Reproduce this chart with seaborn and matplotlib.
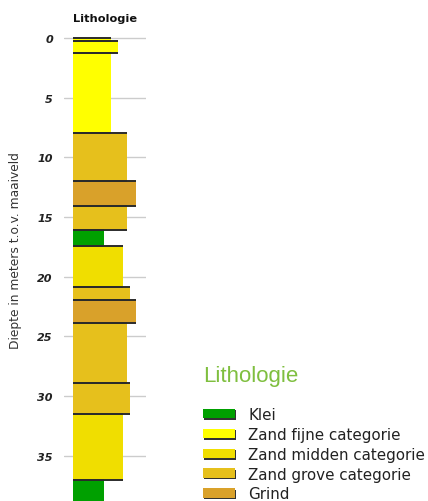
import matplotlib.pyplot as plt
import matplotlib.patheffects as pe
from matplotlib.patches import Patch
import seaborn as sns

# boorprofiel: laag bovenkant / onderkant (m t.o.v. maaiveld)
tops = [0.0, 0.25, 1.25, 8.0, 12.0, 14.05, 16.05, 17.45, 20.9, 21.95, 23.9, 28.9, 31.5, 37.0]
bottoms = tops[1:] + [40.0]
lith = ['fijn', 'fijn', 'fijn', 'grof', 'grind', 'grof', 'klei', 'midden',
        'grof', 'grind', 'grof', 'grof', 'midden', 'klei']
# relatieve kolombreedte per laag (korrelgrootte)
widths = [38, 45, 38, 54, 63, 54, 31, 50, 57, 63, 54, 57, 50, 31]

classes = ['klei', 'fijn', 'midden', 'grof', 'grind']
class_labels = ['Klei', 'Zand fijne categorie', 'Zand midden categorie',
                'Zand grove categorie', 'Grind']
colors = {'klei': '#00a000', 'fijn': '#ffff00', 'midden': '#f0de00',
          'grof': '#e6c01c', 'grind': '#d9a12a'}

sns.set_theme(style='white')
plt.rcParams['font.family'] = ['DejaVu Sans']

fig = plt.figure(figsize=(4.28, 5.02), dpi=100)
ax = fig.add_axes([64 / 428, 0, 82 / 428, 466 / 502])

# lagen
for t, b, l, w in zip(tops, bottoms, lith, widths):
    ax.bar(0, b - t, bottom=t, width=w, align='edge', color=colors[l],
           linewidth=0, zorder=2)
    ax.hlines([t, b], 0, w, color='#2b2b2b', linewidth=1.4, zorder=3)

ax.set_xlim(-9, 73)
ax.set_ylim(38.8, -0.25)
ax.set_xticks([])
ax.set_yticks(range(0, 40, 5))
ax.tick_params(axis='y', length=0, pad=8, labelsize=8, labelcolor='#222222')
for lbl in ax.get_yticklabels():
    lbl.set_fontstyle('italic')
    lbl.set_fontweight('bold')
ax.yaxis.grid(True, color='#cccccc', linewidth=1, zorder=0)
ax.set_axisbelow(True)
for s in ax.spines.values():
    s.set_visible(False)

fig.text(105 / 428, 1 - 19 / 502, 'Lithologie', fontsize=8.2, fontweight='bold',
         ha='center', va='center', color='#111111')
fig.text(16 / 428, 1 - 251 / 502, 'Diepte in meters t.o.v. maaiveld',
         rotation=90, fontsize=8.8, ha='center', va='center', color='#333333')

# legenda
fig.text(203 / 428, 1 - 377 / 502, 'Lithologie', fontsize=16,
         family='Liberation Sans', color='#7fbf3f', ha='left', va='center')
shadow = [pe.withSimplePatchShadow(offset=(1, -1), shadow_rgbFace='#333333', alpha=1)]
handles = [Patch(facecolor=colors[c], edgecolor='none', path_effects=shadow)
           for c in classes]
fig.legend(handles, class_labels, loc='upper left',
           bbox_to_anchor=(203 / 428, 1 - 408 / 502), frameon=False,
           fontsize=10.9, handlelength=2.1, handleheight=0.6,
           handletextpad=0.9, labelspacing=0.32, borderpad=0, borderaxespad=0,
           labelcolor='#222222')

fig.savefig('out.png', dpi=100)
